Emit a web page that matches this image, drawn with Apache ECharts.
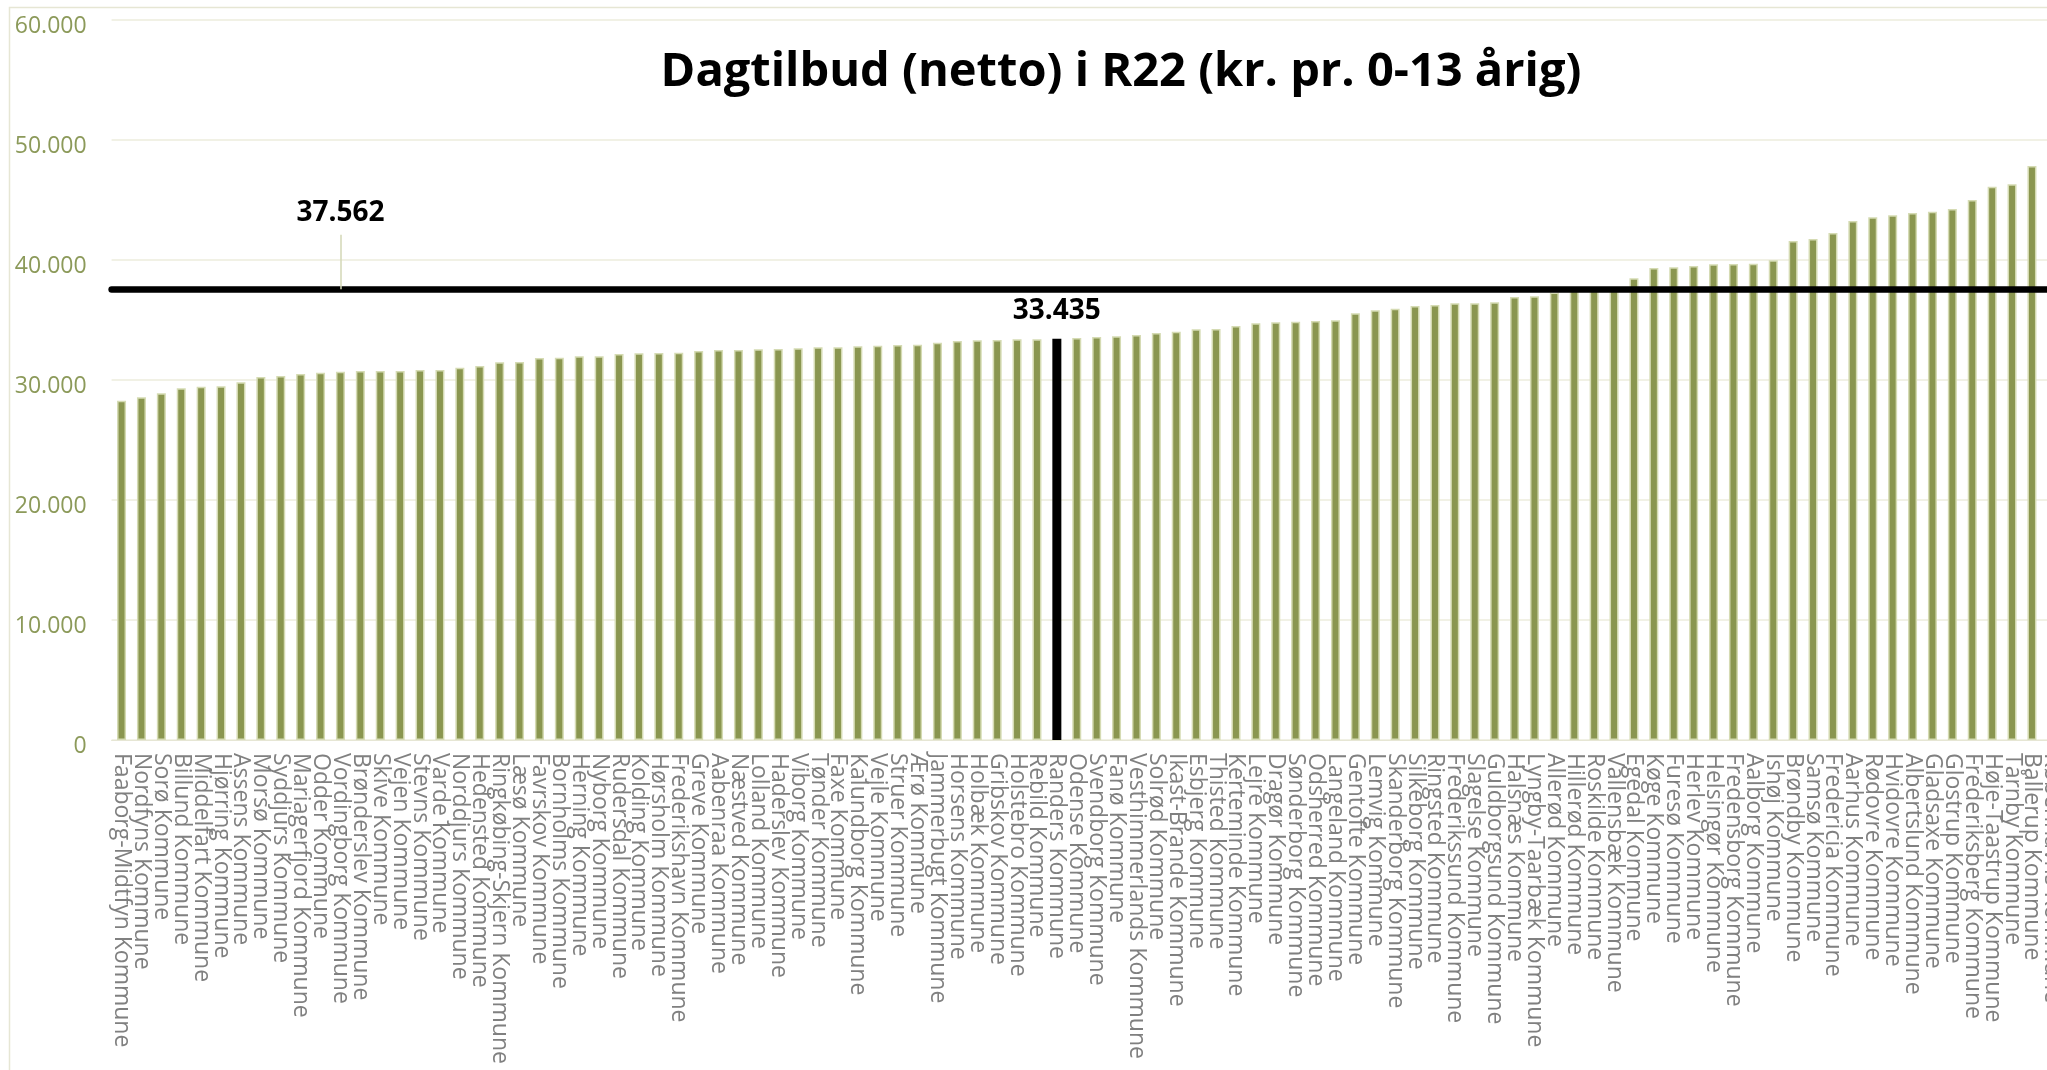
<!DOCTYPE html>
<html>
<head>
<meta charset="utf-8">
<title>Dagtilbud (netto) i R22</title>
<script src="https://cdn.jsdelivr.net/npm/echarts@6/dist/echarts.min.js"></script>
<style>
	html, body { margin: 0; padding: 0; background: #fff; }
	#chart { width: 2047px; height: 1070px; }
</style>
</head>
<body>
<div id="chart"></div>
<script>
	"use strict";
	// DATA
	var kommuner = [
		'Faaborg-Midtfyn Kommune', 'Nordfyns Kommune', 'Sorø Kommune', 'Billund Kommune', 'Middelfart Kommune',
		'Hjørring Kommune', 'Assens Kommune', 'Morsø Kommune', 'Syddjurs Kommune', 'Mariagerfjord Kommune',
		'Odder Kommune', 'Vordingborg Kommune', 'Brønderslev Kommune', 'Skive Kommune', 'Vejen Kommune',
		'Stevns Kommune', 'Varde Kommune', 'Norddjurs Kommune', 'Hedensted Kommune', 'Ringkøbing-Skjern Kommune',
		'Læsø Kommune', 'Favrskov Kommune', 'Bornholms Kommune', 'Herning Kommune', 'Nyborg Kommune',
		'Rudersdal Kommune', 'Kolding Kommune', 'Hørsholm Kommune', 'Frederikshavn Kommune', 'Greve Kommune',
		'Aabenraa Kommune', 'Næstved Kommune', 'Lolland Kommune', 'Haderslev Kommune', 'Viborg Kommune',
		'Tønder Kommune', 'Faxe Kommune', 'Kalundborg Kommune', 'Vejle Kommune', 'Struer Kommune',
		'Ærø Kommune', 'Jammerbugt Kommune', 'Horsens Kommune', 'Holbæk Kommune', 'Gribskov Kommune',
		'Holstebro Kommune', 'Rebild Kommune', 'Randers Kommune', 'Odense Kommune', 'Svendborg Kommune',
		'Fanø Kommune', 'Vesthimmerlands Kommune', 'Solrød Kommune', 'Ikast-Brande Kommune', 'Esbjerg Kommune',
		'Thisted Kommune', 'Kerteminde Kommune', 'Lejre Kommune', 'Dragør Kommune', 'Sønderborg Kommune',
		'Odsherred Kommune', 'Langeland Kommune', 'Gentofte Kommune', 'Lemvig Kommune', 'Skanderborg Kommune',
		'Silkeborg Kommune', 'Ringsted Kommune', 'Frederikssund Kommune', 'Slagelse Kommune', 'Guldborgsund Kommune',
		'Halsnæs Kommune', 'Lyngby-Taarbæk Kommune', 'Allerød Kommune', 'Hillerød Kommune', 'Roskilde Kommune',
		'Vallensbæk Kommune', 'Egedal Kommune', 'Køge Kommune', 'Furesø Kommune', 'Herlev Kommune',
		'Helsingør Kommune', 'Fredensborg Kommune', 'Aalborg Kommune', 'Ishøj Kommune', 'Brøndby Kommune',
		'Samsø Kommune', 'Fredericia Kommune', 'Aarhus Kommune', 'Rødovre Kommune', 'Hvidovre Kommune',
		'Albertslund Kommune', 'Gladsaxe Kommune', 'Glostrup Kommune', 'Frederiksberg Kommune', 'Høje-Taastrup Kommune',
		'Tårnby Kommune', 'Ballerup Kommune', 'Københavns Kommune'
	];
	var udgift = [
		28280, 28560, 28890, 29310, 29440, 29470, 29810, 30250, 30330, 30500,
		30610, 30690, 30750, 30750, 30760, 30830, 30840, 31030, 31170, 31470,
		31500, 31830, 31860, 31970, 31980, 32170, 32220, 32250, 32280, 32420,
		32500, 32510, 32560, 32580, 32640, 32720, 32730, 32810, 32860, 32920,
		32930, 33110, 33250, 33310, 33330, 33390, 33400, 33435, 33500, 33580,
		33640, 33750, 33920, 34030, 34220, 34250, 34500, 34720, 34810, 34860,
		34920, 34970, 35560, 35810, 35940, 36170, 36250, 36390, 36400, 36470,
		36920, 36970, 37300, 37450, 37550, 37650, 38470, 39330, 39390, 39500,
		39640, 39670, 39680, 39970, 41580, 41750, 42250, 43250, 43560, 43720,
		43920, 44030, 44250, 45000, 46110, 46310, 47830, 49500
	];
	var landsgennemsnit = 37562;
	var fremhaevet = 'Randers Kommune';
	var yTicks = [0, 10000, 20000, 30000, 40000, 50000, 60000];

	// dansk tusindtalsseparator
	function fmt(v) {
		return String(Math.round(v)).replace(/\B(?=(\d{3})+(?!\d))/g, '.');
	}

	var barData = kommuner.map(function(navn, i) {
		if (navn === fremhaevet) {
			return {
				value: udgift[i],
				itemStyle: { color: '#000000', borderColor: '#000000', borderWidth: 0 },
				label: {
					show: true,
					position: 'top',
					distance: 14,
					formatter: function(p) { return fmt(p.value); },
					color: '#000000',
					fontFamily: 'Open Sans',
					fontWeight: 'bold',
					fontSize: 28
				}
			};
		}
		return udgift[i];
	});

	var chart = echarts.init(document.getElementById('chart'), null, { renderer: 'canvas' });
	var option = {
		backgroundColor: '#ffffff',
		animation: false,
		title: {
			text: 'Dagtilbud (netto) i R22 (kr. pr. 0-13 årig)',
			left: 1116,
			top: 44,
			textAlign: 'center',
			textStyle: {
				fontFamily: 'Open Sans',
				fontWeight: 'bold',
				fontSize: 47,
				color: '#000000'
			}
		},
		graphic: [{
			type: 'rect',
			silent: true,
			z: -10,
			shape: { x: 9.5, y: 7.5, width: 2200, height: 1200 },
			style: { fill: 'none', stroke: '#E6E6D4', lineWidth: 1.5 }
		}],
		grid: {
			left: 111.6,
			top: 20,
			width: 1950.2,
			height: 720,
			containLabel: false,
			outerBoundsMode: 'none'
		},
		xAxis: {
			type: 'category',
			data: kommuner,
			axisTick: { show: false },
			axisLine: { show: true, lineStyle: { color: '#E6E6D4', width: 1 } },
			axisLabel: {
				interval: 0,
				rotate: -90,
				margin: 13,
				color: '#808080',
				fontFamily: 'Open Sans',
				fontSize: 23
			}
		},
		yAxis: {
			type: 'value',
			min: yTicks[0],
			max: yTicks[yTicks.length - 1],
			interval: 10000,
			axisLine: { show: false },
			axisTick: { show: false },
			splitLine: { lineStyle: { color: '#ECECDC', width: 1.5 } },
			axisLabel: {
				margin: 25,
				verticalAlign: 'top',
				lineHeight: 12,
				color: '#8C9A5A',
				fontFamily: 'Open Sans',
				fontSize: 23,
				formatter: function(v) { return fmt(v); }
			}
		},
		series: [{
			name: 'Dagtilbud',
			type: 'bar',
			data: barData,
			barWidth: 9,
			itemStyle: {
				color: '#8A9650',
				borderColor: '#D5DBB3',
				borderWidth: 1.5
			},
			markLine: {
				silent: true,
				symbol: ['none', 'none'],
				animation: false,
				data: [
					{
						yAxis: landsgennemsnit,
						lineStyle: { color: '#000000', width: 6.5, type: 'solid', cap: 'round' },
						label: { show: false }
					},
					[
						{
							coord: [11, landsgennemsnit],
							lineStyle: { color: '#D3D7B6', width: 1.5, type: 'solid' },
							label: {
								show: true,
								position: 'end',
								distance: 8,
								formatter: fmt(landsgennemsnit),
								color: '#000000',
								fontFamily: 'Open Sans',
								fontWeight: 'bold',
								fontSize: 28
							}
						},
						{ coord: [11, 42100] }
					]
				]
			}
		}]
	};
	chart.setOption(option);
</script>
</body>
</html>
